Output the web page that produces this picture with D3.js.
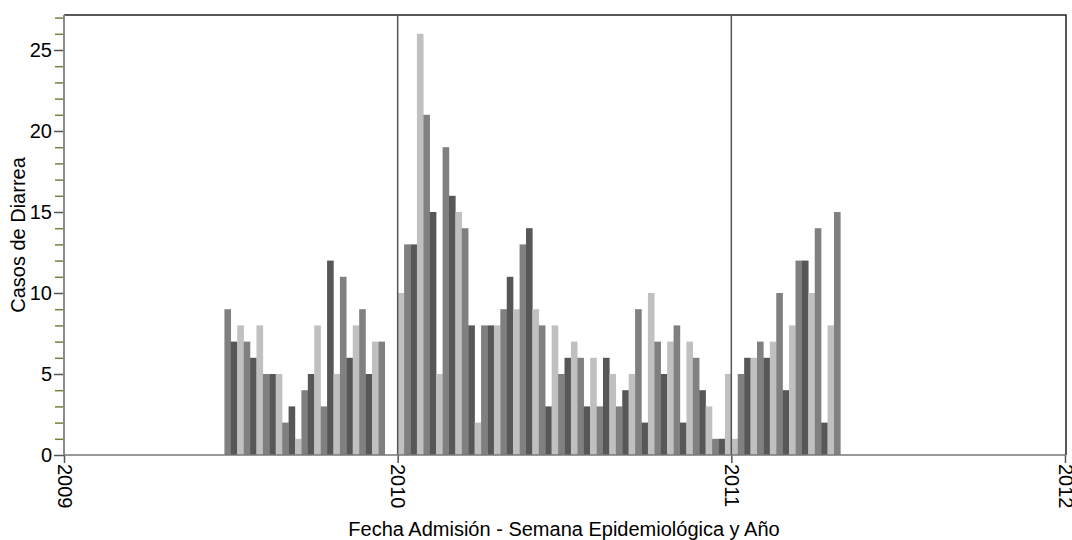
<!DOCTYPE html>
<html>
<head>
<meta charset="utf-8">
<script src="https://cdn.jsdelivr.net/npm/d3@7"></script>
<style>
  body { margin: 0; background: #fff; }
  svg text { font-family: "Liberation Sans", Arial, sans-serif; fill: #000; }
</style>
</head>
<body>
<svg id="chart" width="1072" height="540"></svg>
<script>
// casos semanales de diarrea por semana epidemiologica
var years = [2009, 2010, 2011];
var firstWeek = [26, 1, 1];
var cases2009 = [9,7,8,7,6,8,5,5,5,2,3,1,4,5,8,3,12,5,11,6,8,9,5,7,7];
var cases2010 = [10,13,13,26,21,15,5,19,16,15,14,8,2,8,8,8,9,11,9,13,14,9,8,3,8,
                 5,6,7,6,3,6,3,6,5,3,4,5,9,2,10,7,5,7,8,2,7,6,4,3,1,1,5];
var cases2011 = [1,5,6,6,7,6,7,10,4,8,12,12,10,14,2,8,15];
var xTicks = [2009, 2010, 2011, 2012];
var yTicks = [0, 5, 10, 15, 20, 25];
var weekColors = ["#c0c0c0", "#808080", "#575757"];

var series = [cases2009, cases2010, cases2011];
var data = [];
series.forEach(function(vals, i){
  vals.forEach(function(v, j){
    data.push({year: years[i], week: firstWeek[i] + j, value: v});
  });
});

var svg = d3.select("#chart");
var mLeft = 64, mRight = 1065, mTop = 15, mBottom = 455;

var x = d3.scaleLinear().domain([2009, 2012]).range([mLeft, mRight]);
var y = d3.scaleLinear().domain([0, 27.16]).range([mBottom, mTop]);
var weekW = (x(2010) - x(2009)) / 52;

// barras
svg.append("g")
  .selectAll("rect")
  .data(data)
  .enter()
  .append("rect")
    .attr("x", d => x(d.year + (d.week - 1) / 52))
    .attr("width", weekW + 0.2)
    .attr("y", d => y(d.value))
    .attr("height", d => y(0) - y(d.value))
    .attr("fill", d => weekColors[(d.week - 1) % 3]);

// marco superior y derecho
svg.append("path")
  .attr("d", "M" + mLeft + "," + mTop + "H" + (mRight + 1) + "V" + mBottom)
  .attr("fill", "none")
  .attr("stroke", "#222")
  .attr("stroke-width", 1.5);

// lineas de cambio de año
svg.append("g")
  .selectAll("line")
  .data([2010, 2011])
  .enter()
  .append("line")
    .attr("x1", d => x(d)).attr("x2", d => x(d))
    .attr("y1", mTop).attr("y2", mBottom)
    .attr("stroke", "#555")
    .attr("stroke-width", 1.5);

// eje y: ticks menores
var minor = d3.range(1, 28).filter(v => v % 5 !== 0);
var yMinor = svg.append("g")
  .attr("transform", "translate(" + mLeft + ",0)")
  .call(d3.axisLeft(y).tickValues(minor).tickSize(9).tickFormat(""));
yMinor.select(".domain").remove();
yMinor.selectAll("line").attr("stroke", "#7d7d3c").attr("stroke-width", 1.5);

var yAxis = svg.append("g")
  .attr("transform", "translate(" + mLeft + ",0)")
  .call(d3.axisLeft(y).tickValues(yTicks).tickSize(10).tickPadding(2));
yAxis.select(".domain").remove();
yAxis.selectAll("line").attr("stroke", "#555").attr("stroke-width", 1.5);
yAxis.selectAll("text").attr("font-size", "20px");

svg.append("line")
  .attr("x1", mLeft).attr("x2", mLeft)
  .attr("y1", mTop).attr("y2", mBottom)
  .attr("stroke", "#8a8a8a")
  .attr("stroke-width", 2);

// eje x
var xAxis = svg.append("g")
  .attr("transform", "translate(0," + mBottom + ")")
  .call(d3.axisBottom(x).tickValues(xTicks).tickFormat(d3.format("d")).tickSize(8).tickPadding(3));
xAxis.select(".domain").remove();
xAxis.selectAll("line").attr("stroke", "#555").attr("stroke-width", 1.5);
xAxis.selectAll("text")
  .attr("font-size", "20px")
  .attr("text-anchor", "start")
  .attr("transform", "rotate(90)")
  .attr("x", 9)
  .attr("y", 0)
  .attr("dy", "0.35em");

svg.append("line")
  .attr("x1", mLeft).attr("x2", mRight + 1)
  .attr("y1", mBottom).attr("y2", mBottom)
  .attr("stroke", "#777")
  .attr("stroke-width", 1.5);

// titulos
svg.append("text")
  .attr("transform", "translate(25," + (mTop + mBottom) / 2 + ") rotate(-90)")
  .attr("text-anchor", "middle")
  .attr("font-size", "20px")
  .text("Casos de Diarrea");

svg.append("text")
  .attr("x", 564)
  .attr("y", 536)
  .attr("text-anchor", "middle")
  .attr("font-size", "20px")
  .text("Fecha Admisión - Semana Epidemiológica y Año");
</script>
</body>
</html>
